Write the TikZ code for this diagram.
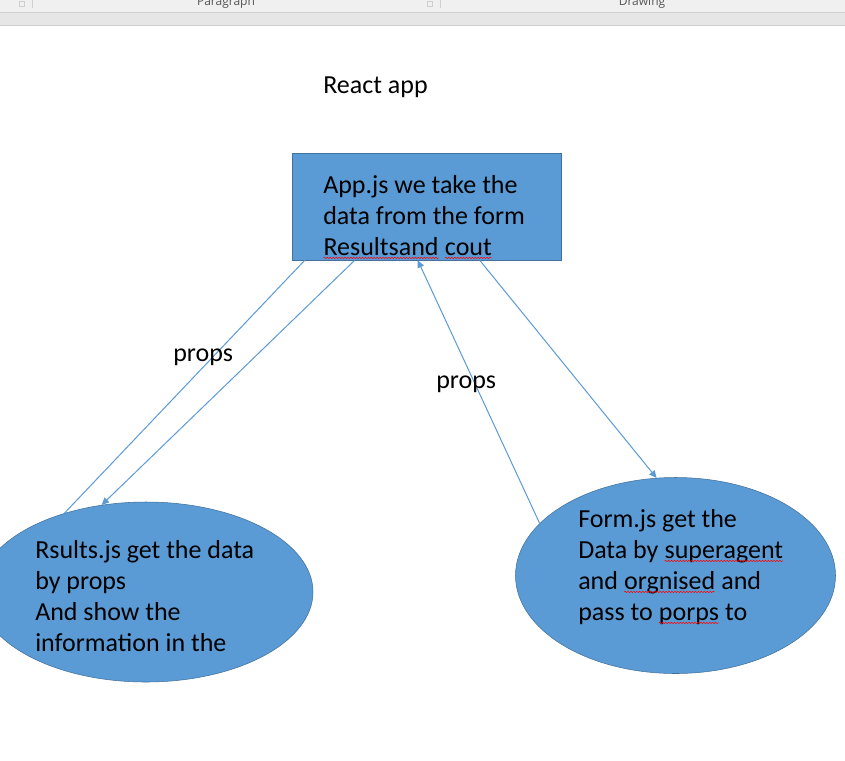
\documentclass[tikz,border=0pt]{standalone}
\usepackage{fontspec}
\setmainfont{Carlito}
\newfontfamily\uifont{Open Sans}
\usetikzlibrary{shapes.geometric, arrows.meta, decorations.pathmorphing}
\definecolor{shapefill}{HTML}{5B9BD5}
\definecolor{shapeedge}{HTML}{41719C}
\definecolor{ribbonA}{HTML}{F0F0F0}
\definecolor{ribbonB}{HTML}{E6E6E6}
\definecolor{ribbonline}{HTML}{CFCFCF}
\definecolor{ribbontext}{HTML}{555555}
\newcommand{\typo}[1]{\tikz[baseline=(word.base)]{\node[inner sep=0, outer sep=0] (word) {#1}; \draw[red, line width=0.4pt, decorate, decoration={snake, amplitude=0.5pt, segment length=2.2pt}] ([yshift=-2.2pt]word.base west) -- ([yshift=-2.2pt]word.base east);}}

\begin{document}
\begin{tikzpicture}[x=0.75pt, y=-0.75pt,
		box/.style={draw=shapeedge, fill=shapefill, rectangle, inner sep=0, minimum width=201.75pt, minimum height=80.25pt},
		oval/.style={draw=shapeedge, fill=shapefill, ellipse, inner sep=0},
		txt/.style={align=left, inner sep=0, font=\fontsize{19.5}{23.25}\selectfont},
		link/.style={draw=shapefill, line width=0.75pt},
		arrow/.style={link, -{Triangle[length=5.5pt, width=5pt]}}]
		\useasboundingbox (0,0) rectangle (845,760);
		\clip (0,0) rectangle (845,760);
		\fill[white] (0,0) rectangle (845,760);
		
		\fill[ribbonA] (0,0) rectangle (845,12.5);
		\fill[ribbonB] (0,12.5) rectangle (845,25.5);
		\draw[ribbonline] (0,12.5) -- (845,12.5);
		\draw[ribbonline] (0,25.5) -- (845,25.5);
		\draw[ribbonline] (32,0) -- (32,8);
		\draw[ribbonline] (440,0) -- (440,8);
		\draw[ribbonline] (19,1) rectangle (24,6);
		\draw[ribbonline] (427,1) rectangle (432,6);
		\node[anchor=base, inner sep=0, text=ribbontext, font=\uifont\fontsize{9}{10}\selectfont] (para) at (226,6) {Paragraph};
		\node[anchor=base, inner sep=0, text=ribbontext, font=\uifont\fontsize{9}{10}\selectfont] (drawing) at (642,6) {Drawing};
		
		\node[txt, anchor=base west] (title) at (323,93) {React app};
		
		\node[box] (app) at (426.5,206.5) {};
		\node[oval, minimum width=250.5pt, minimum height=135pt] (res) at (146,592) {};
		\node[oval, minimum width=240pt, minimum height=147pt] (form) at (675.5,575.5) {};
		
		\node[txt, anchor=base west] (apptext) at (323,255) {App.js we take the\\data from the form\\\typo{Resultsand} \typo{cout}};
		\node[txt, anchor=base west] (restext) at (35,651) {Rsults.js get the data\\by props\\And show the\\information in the};
		\node[txt, anchor=base west] (formtext) at (578,620) {Form.js get the\\Data by \typo{superagent}\\and \typo{orgnised} and\\pass to \typo{porps} to};
		
		\draw[link] ([xshift=9.75pt]app.south west) -- (res.136);
		\draw[arrow] ([xshift=47.25pt]app.south west) -- (res.117);
		\draw[arrow] (form.159) -- ([xshift=94.5pt]app.south west);
		\draw[arrow] ([xshift=141pt]app.south west) -- (form.101);
		
		\node[txt, anchor=base west] (propsleft) at (173,361) {props};
		\node[txt, anchor=base west] (propsright) at (436,388) {props};
		
	\end{tikzpicture}
\end{document}
